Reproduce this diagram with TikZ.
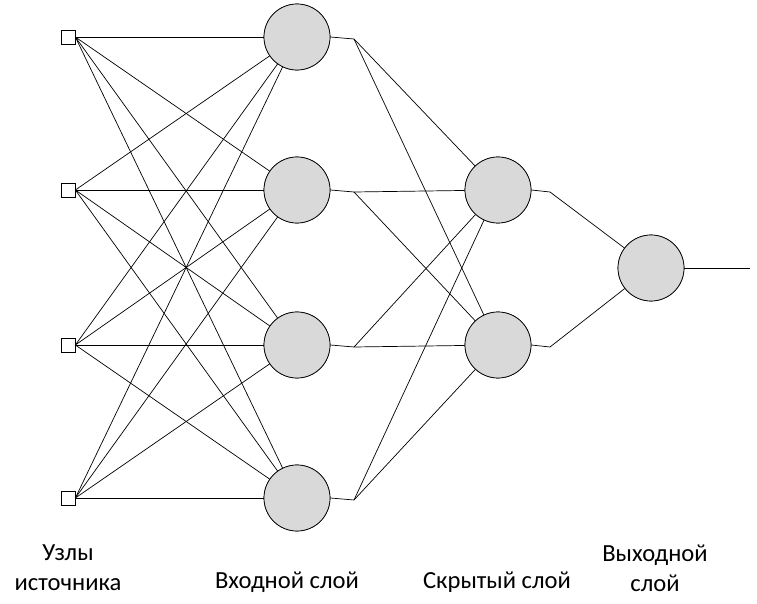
\documentclass[tikz,border=0pt]{standalone}
\usepackage{fontspec}
\setmainfont{Carlito}
\begin{document}
\begin{tikzpicture}[
    x=0.02cm, y=-0.02cm,
    src/.style={rectangle, draw, fill=white, minimum size=0.28cm, inner sep=0pt},
    neuron/.style={circle, draw, fill=gray!30, minimum size=1.32cm, inner sep=0pt},
    link/.style={thin},
    caption/.style={align=center, font=\fontsize{14}{17}\selectfont}
]
\useasboundingbox (0,0) rectangle (757,604);
% Source nodes
\foreach \i/\y in {1/37,2/190,3/345,4/498} {
    \node[src] (s\i) at (68,\y) {};
}
% Input layer with output stubs
\foreach \i/\y in {1/37,2/190,3/345,4/498} {
    \node[neuron] (in\i) at (297,\y) {};
    \coordinate (a\i) at (354,\y+2);
    \draw[link] (in\i.east) -- (a\i);
}
% Hidden layer
\foreach \i/\y in {1/190,2/345} {
    \node[neuron] (h\i) at (498,\y) {};
    \coordinate (b\i) at (550,\y+2);
    \draw[link] (h\i.east) -- (b\i);
}
% Output layer
\node[neuron] (o1) at (651,268) {};
\coordinate (out) at (750,268);
\draw[link] (o1.east) -- (out);

% Connections
\foreach \i in {1,2,3,4} {
    \foreach \j in {1,2,3,4} {
        \draw[link] (s\i.east) -- (in\j);
    }
}
\foreach \i in {1,2,3,4} {
    \foreach \j in {1,2} {
        \draw[link] (a\i) -- (h\j);
    }
}
\foreach \j in {1,2} {
    \draw[link] (b\j) -- (o1);
}
% Redraw circles above lines
\foreach \i/\y in {1/37,2/190,3/345,4/498} {
    \node[neuron] at (297,\y) {};
    \node[src] at (68,\y) {};
}
\foreach \i/\y in {1/190,2/345} {
    \node[neuron] at (498,\y) {};
}
\node[neuron] at (651,268) {};

% Labels
\node[caption] (l1) at (68,568) {Узлы\\источника};
\node[caption] (l2) at (287,582) {Входной слой};
\node[caption] (l3) at (497,582) {Скрытый слой};
\node[caption] (l4) at (655,568) {Выходной\\слой};
\end{tikzpicture}
\end{document}
